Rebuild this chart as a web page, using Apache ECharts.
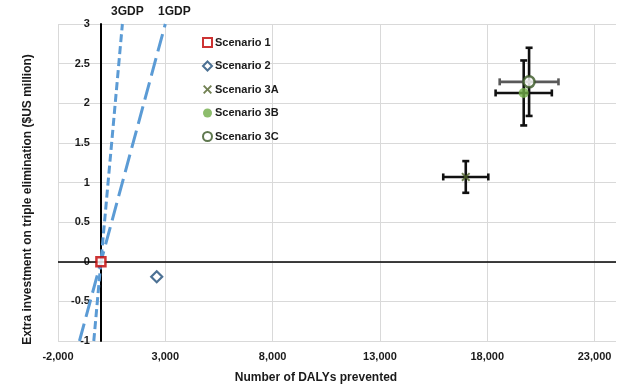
<!DOCTYPE html>
<html><head><meta charset="utf-8">
<script src="https://cdn.jsdelivr.net/npm/echarts@6/dist/echarts.min.js"></script>
<style>html,body{margin:0;padding:0;background:#fff}#c{width:639px;height:391px}</style>
</head><body><div id="c"></div>
<script>
// ---- data ----
const scenarioNames = ['Scenario 1','Scenario 2','Scenario 3A','Scenario 3B','Scenario 3C'];
const dalys = [0, 2600, 17000, 19700, 19950];          // x values
const investment = [0, -0.19, 1.07, 2.13, 2.27];       // y values ($US million)
const dalysErr = [0, 0, 1050, 1310, 1370];             // x error (+/-)
const investErr = [0, 0, 0.20, 0.41, 0.43];            // y error (+/-)
const thresholdNames = ['3GDP','1GDP'];
const thresholdX = [[-333, 1000], [-1000, 3000]];      // x at y=-1 and y=3
const thresholdY = [-1, 3];
const xTicks = [-2000, 3000, 8000, 13000, 18000, 23000];
const yTicks = [-1, -0.5, 0, 0.5, 1, 1.5, 2, 2.5, 3];
const xMin = -2000, xMax = 24000, xInterval = 5000;
const yMin = -1, yMax = 3, yInterval = 0.5;

// ---- layout & styles ----
const W = 639, gridL = 58, gridR = 23;
const font = 'Liberation Sans, Arial, sans-serif';
const txt = '#1a1a1a';
// y axis sits at x = 0, inside the plot area
const yAxisOffset = -((0 - xMin) / (xMax - xMin)) * (W - gridL - gridR);
const markerStyle = [
  {symbol:'rect', size:9, itemStyle:{color:'#fff', borderColor:'#C00000', borderWidth:2.5}},
  {symbol:'diamond', size:11, itemStyle:{color:'#fff', borderColor:'#1F4E79', borderWidth:2.2}},
  {symbol:'path://M0,1.5 L1.5,0 L5,3.5 L8.5,0 L10,1.5 L6.5,5 L10,8.5 L8.5,10 L5,6.5 L1.5,10 L0,8.5 L3.5,5 Z', size:9, itemStyle:{color:'#4F6228'}},
  {symbol:'circle', size:10, itemStyle:{color:'#70AD47'}},
  {symbol:'circle', size:11, itemStyle:{color:'#fff', borderColor:'#375623', borderWidth:2.5}}
];
const hBarColor = [null, null, '#111', '#111', '#595959'];
const thresholdDash = [[8,4],[18,7]];
const labelOffset = [[5,0],[9,0]];

function makeErr(hc){
  return function(params, api){
    const x=api.value(0), y=api.value(1), ex=api.value(2), ey=api.value(3);
    const l=api.coord([x-ex,y]), r=api.coord([x+ex,y]);
    const t=api.coord([x,y+ey]), b=api.coord([x,y-ey]);
    const cap=3.5, w=2.6;
    const line=(x1,y1,x2,y2,c)=>({type:'line',shape:{x1,y1,x2,y2},style:{stroke:c,lineWidth:w}});
    return {type:'group', children:[
      line(t[0],t[1],b[0],b[1],'#111'),
      line(t[0]-cap,t[1],t[0]+cap,t[1],'#111'),
      line(b[0]-cap,b[1],b[0]+cap,b[1],'#111'),
      line(l[0],l[1],r[0],r[1],hc),
      line(l[0],l[1]-cap,l[0],l[1]+cap,hc),
      line(r[0],r[1]-cap,r[0],r[1]+cap,hc)
    ]};
  };
}

const series = [];
thresholdNames.forEach((n,i)=>{
  series.push({
    name:n, type:'line', symbol:'circle', symbolSize:0, showSymbol:true, silent:true, z:1, clip:false,
    lineStyle:{color:'#5B9BD5', width:3, type:thresholdDash[i]},
    itemStyle:{color:'rgba(0,0,0,0)'},
    data:[
      {value:[thresholdX[i][0], thresholdY[0]], label:{show:false}},
      {value:[thresholdX[i][1], thresholdY[1]],
       label:{show:true, position:'top', formatter:n, offset:labelOffset[i], distance:6,
              fontFamily:font, fontWeight:'bold', fontSize:12, color:txt}}
    ]
  });
});
series.push({
  type:'line', data:[], silent:true,
  markLine:{symbol:'none', silent:true, label:{show:false}, lineStyle:{color:'#000', width:1.5, type:'solid'},
    data:[{yAxis:0}]}
});
scenarioNames.forEach((n,i)=>{
  if(dalysErr[i]>0){
    series.push({type:'custom', name:'err '+n, z:3, silent:true, renderItem:makeErr(hBarColor[i]),
      data:[[dalys[i], investment[i], dalysErr[i], investErr[i]]]});
  }
});
scenarioNames.forEach((n,i)=>{
  const m=markerStyle[i];
  series.push({name:n, type:'scatter', z:5, symbol:m.symbol, symbolSize:m.size, itemStyle:m.itemStyle,
    data:[[dalys[i], investment[i]]]});
});

const chart = echarts.init(document.getElementById('c'));
chart.setOption({
  animation:false,
  grid:{left:gridL, right:gridR, top:24, bottom:50, containLabel:false, outerBoundsMode:'none'},
  legend:{
    data:scenarioNames.map(n=>({name:n})), orient:'vertical', left:197, top:32,
    itemWidth:9, itemHeight:9, itemGap:12.5,
    textStyle:{fontFamily:font, fontWeight:'bold', fontSize:11, color:txt, padding:[0,0,0,-2]}
  },
  xAxis:{
    type:'value', min:xMin, max:xMax, interval:xInterval,
    axisLine:{show:false, onZero:false}, axisTick:{show:false},
    axisLabel:{fontFamily:font, fontWeight:'bold', fontSize:11, color:txt, margin:10,
      formatter:v=> xTicks.includes(v) ? v.toLocaleString('en-US') : '', showMaxLabel:false},
    splitLine:{show:true, showMaxLine:false, lineStyle:{color:'#D9D9D9', width:1}},
    name:'Number of DALYs prevented', nameLocation:'middle', nameGap:31,
    nameTextStyle:{fontFamily:font, fontWeight:'bold', fontSize:12, color:txt, padding:[0,42,0,0]}
  },
  yAxis:{
    type:'value', min:yMin, max:yMax, interval:yInterval, offset:yAxisOffset,
    axisLine:{show:true, onZero:false, lineStyle:{color:'#000', width:2}}, axisTick:{show:false},
    axisLabel:{fontFamily:font, fontWeight:'bold', fontSize:11, color:txt, margin:11,
      formatter:v=> yTicks.includes(v) ? String(v) : ''},
    splitLine:{show:true, lineStyle:{color:'#D9D9D9', width:1}},
    name:'Extra investment on triple elimination ($US million)', nameLocation:'middle', nameGap:67,
    nameTextStyle:{fontFamily:font, fontWeight:'bold', fontSize:12, color:txt, padding:[0,34,0,0]}
  },
  series
});
</script></body></html>
